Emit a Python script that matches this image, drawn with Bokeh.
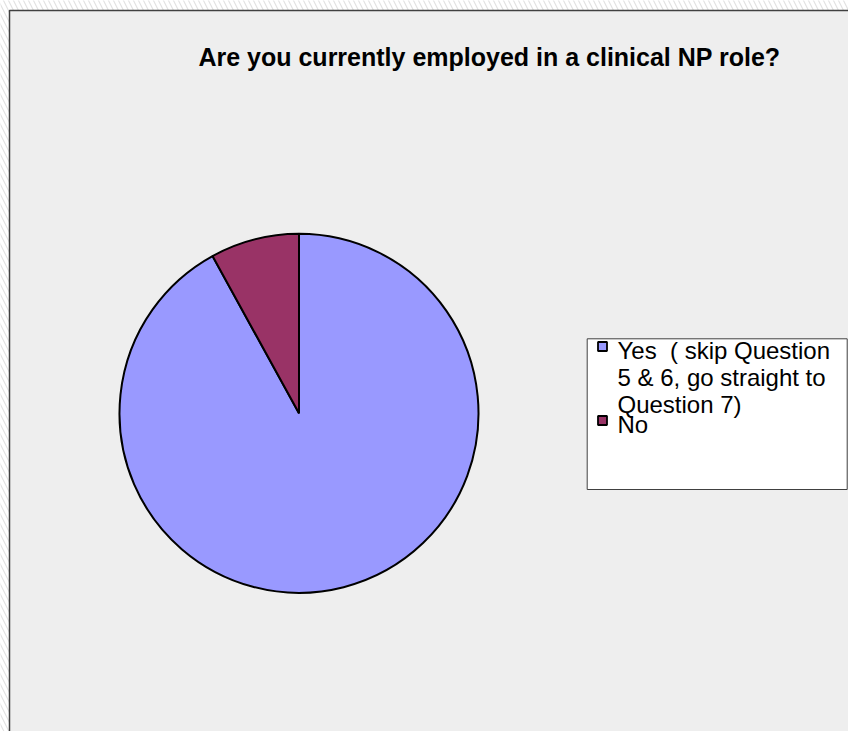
import math
import textwrap
from bokeh.plotting import figure
from bokeh.models import Range1d
from bokeh.core.properties import value
from bokeh.embed import file_html
from bokeh.resources import INLINE

# ---- data ----
title_text = "Are you currently employed in a clinical NP role?"
categories = ["Yes  ( skip Question 5 & 6, go straight to Question 7)", "No"]
values = [92, 8]
colors = ["#9999FF", "#993366"]

W, H = 848, 731

def py(page_y):
    # convert page (top-down) y to data y
    return H - page_y

def px(page_x):
    return page_x

p = figure(width=W, height=H, output_backend="svg", toolbar_location=None,
           x_range=Range1d(0, W), y_range=Range1d(0, H), min_border=0)
p.axis.visible = False
p.grid.visible = False
p.outline_line_color = None
p.background_fill_color = "white"
p.border_fill_color = "white"

# hatched outer background
p.quad(left=[-5], right=[W + 5], bottom=[-5], top=[H + 5], fill_color="white",
       line_color=None, hatch_pattern="\\", hatch_color="#E2E2E2",
       hatch_scale=10, hatch_weight=1.2)

# chart area
p.quad(left=[px(9)], right=[W + 20], bottom=[-20], top=[py(10)], fill_color="#EEEEEE",
       line_color="#404040", line_width=1.5)

# title
p.text(x=[px(489)], y=[py(56)], text=[title_text], text_align="center",
       text_baseline="alphabetic", text_font=value("Liberation Sans"),
       text_font_style="bold", text_font_size="25px", text_color="black")

# pie
total = float(sum(values))
cx, cy, r = px(298.5), py(412.8), 179.5
starts, ends = [], []
a = math.pi / 2
for v in values:
    starts.append(a)
    a = a - 2 * math.pi * v / total
    ends.append(a)
p.wedge(x=[cx] * len(values), y=[cy] * len(values), radius=r,
        start_angle=starts, end_angle=ends, direction="clock",
        fill_color=colors, line_color="black", line_width=2)

# legend box
p.quad(left=[px(586.7)], right=[px(846.7)], top=[py(338.3)], bottom=[py(489)],
       fill_color="white", line_color="#404040", line_width=1)

row_gap = 74
line_gap = 27
mx, my0 = px(602), 346
tx = px(617)
lx, ly, lt = [], [], []
for i, cat in enumerate(categories):
    my = my0 + i * row_gap
    p.rect(x=[mx], y=[py(my)], width=9, height=9, fill_color=colors[i],
           line_color="black", line_width=1.8)
    lines = textwrap.wrap(cat, width=21)
    for j, ln in enumerate(lines):
        lx.append(tx)
        ly.append(py(my + 4 + j * line_gap))
        lt.append(ln.replace("  ", " \u00a0"))
p.text(x=lx, y=ly, text=lt, text_align="left", text_baseline="alphabetic",
       text_font=value("Liberation Sans"), text_font_size="24px", text_color="black")

open("out.html", "w").write(file_html(p, INLINE))
